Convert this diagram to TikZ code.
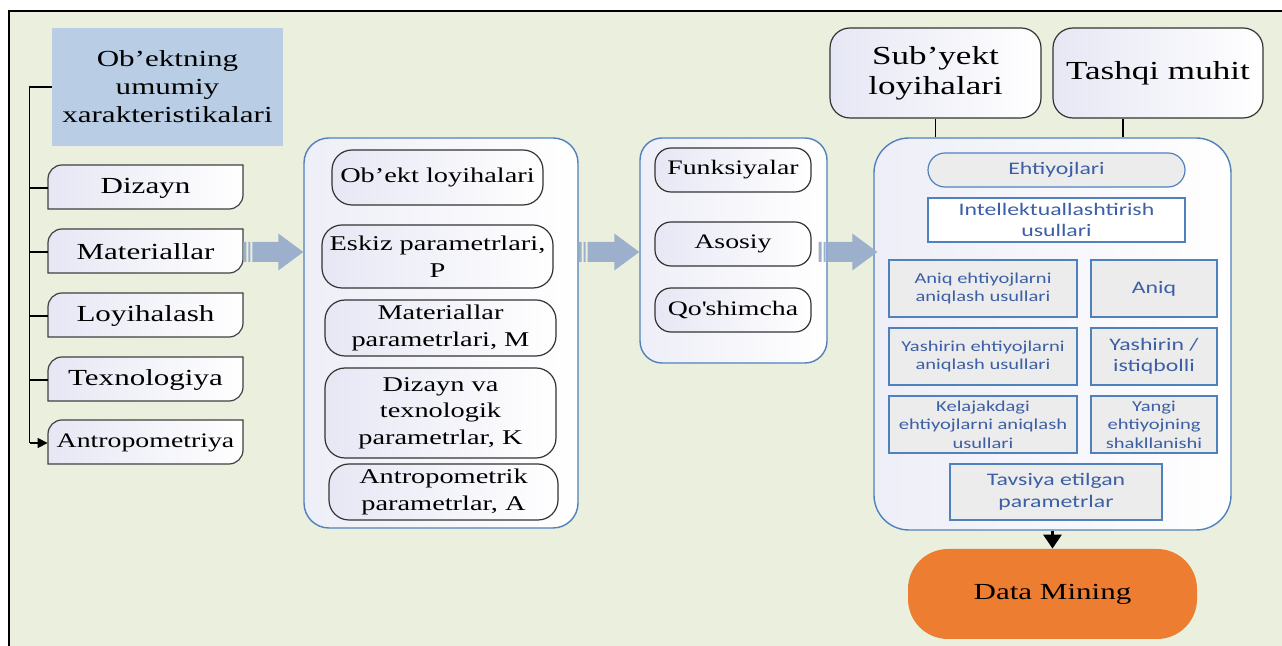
\documentclass[tikz,border=0pt]{standalone}
\usepackage{fontspec}
\setmainfont{Liberation Serif}[FakeStretch=1.35]
\newfontfamily\calfont{Carlito}[FakeStretch=1.35]
\usetikzlibrary{calc,arrows.meta}

\definecolor{bggreen}{RGB}{234,239,222}
\definecolor{hdrblue}{RGB}{185,205,229}
\definecolor{lav}{RGB}{230,231,244}
\definecolor{boxblue}{RGB}{79,129,189}
\definecolor{txtblue}{RGB}{60,95,165}
\definecolor{needgray}{RGB}{236,236,236}
\definecolor{arrowblue}{RGB}{157,176,203}
\definecolor{dmorange}{RGB}{237,125,49}

\tikzset{
  leftbox/.style={minimum width=97.5pt,minimum height=22pt,inner sep=0pt},
  innerbox/.style={draw=black!80,line width=0.6pt,left color=lav,right color=white,align=center,inner sep=1pt},
  bigbox/.style={draw=boxblue,line width=0.7pt,left color=lav!70,right color=white},
  needbox/.style={draw=boxblue,line width=0.6pt,fill=needgray,align=center,text=txtblue,inner sep=1pt},
  smalltxt/.style={font=\calfont\fontsize{7.6}{9.2}\selectfont},
  bigtxt/.style={font=\calfont\fontsize{8.8}{10.8}\selectfont}
}

% wide block arrow with two stripes at its tail
\newcommand{\flowarrow}[2]{%
  \path let \p1=#1, \p2=#2 in [fill=arrowblue]
    (\x1,\y1-5pt) rectangle (\x1+1.5pt,\y1+5pt)
    (\x1+2.5pt,\y1-5pt) rectangle (\x1+3.5pt,\y1+5pt)
    (\x1+4.5pt,\y1-5pt) -- (\x2-12.5pt,\y1-5pt) -- (\x2-12.5pt,\y1-9.25pt) -- (\x2,\y1)
    -- (\x2-12.5pt,\y1+9.25pt) -- (\x2-12.5pt,\y1+5pt) -- (\x1+4.5pt,\y1+5pt) -- cycle;}

\begin{document}
\begin{tikzpicture}[x=0.5pt,y=-0.5pt,font=\fontsize{11.5}{13.5}\selectfont]
\useasboundingbox (0,0) rectangle (1282,646);
\fill[bggreen] (9,11) rectangle (1282,646);
\draw[line width=0.8pt] (9,646) -- (9,11) -- (1282,11);

% left column
\node[fill=hdrblue,minimum width=115.5pt,minimum height=59pt,align=center,font=\fontsize{11.5}{14}\selectfont] (hdr) at (167.5,87) {Ob’ektning\\umumiy\\xarakteristikalari};
\foreach \y/\nm/\fs/\txt in {187/diz/11.5/Dizayn,251/mat/11.5/Materiallar,315/loy/11.5/Loyihalash,379/tex/11.5/Texnologiya,442/ant/10.3/Antropometriya}{
  \path[left color=lav,right color=white,draw=black!75,line width=0.6pt]
    (48,\y+22) -- (48,\y-8) arc[start angle=180,end angle=90,radius=7pt] -- (243,\y-22)
    -- (243,\y+8) arc[start angle=0,end angle=-90,radius=7pt] -- cycle;
  \node[leftbox,font=\fontsize{\fs}{13}\selectfont] (\nm) at (145.5,\y+1) {\txt};
}
\draw[line width=0.7pt] (hdr.west) -- ++(-11pt,0) coordinate (tr) -- (tr |- ant.west);
\foreach \nm in {diz,mat,loy,tex}
  \draw[line width=0.7pt] (tr |- \nm.west) -- (\nm.west);
\draw[line width=0.7pt,-{Triangle[width=5pt,length=5pt]}] (tr |- ant.west) -- (ant.west);

% object parameters
\node[bigbox,rounded corners=12.5pt,minimum width=137pt,minimum height=195pt] (c1) at (441,333) {};
\begin{scope}[every node/.style={innerbox,rounded corners=10pt,font=\fontsize{10.5}{13.3}\selectfont}]
\node[minimum width=105.5pt,minimum height=27.5pt] (ol) at (437.5,177.5) {Ob’ekt loyihalari};
\node[minimum width=115.5pt,minimum height=31.5pt] (ep) at (437.5,256.5) {Eskiz parametrlari,\\P};
\node[minimum width=115.5pt,minimum height=28pt] (mp) at (440.5,328) {Materiallar\\parametrlari, M};
\node[minimum width=115.5pt,minimum height=45pt] (dt) at (440.5,413) {Dizayn va\\texnologik\\parametrlar, K};
\node[minimum width=114.5pt,minimum height=28pt] (ap) at (443.5,492) {Antropometrik\\parametrlar, A};
\end{scope}

% functions
\node[bigbox,rounded corners=11pt,minimum width=93.5pt,minimum height=112.5pt] (c2) at (733.5,250.5) {};
\begin{scope}[every node/.style={innerbox,rounded corners=8pt,minimum width=78pt,minimum height=22pt,font=\fontsize{10.3}{12}\selectfont}]
\node (fn) at (733,170) {Funksiyalar};
\node (as) at (733,244) {Asosiy};
\node (qo) at (733,310) {Qo\textquotesingle shimcha};
\end{scope}

% needs
\node[bigbox,rounded corners=17.5pt,minimum width=178.5pt,minimum height=196pt] (c3) at (1052.5,334) {};
\node[needbox,bigtxt,rounded corners=8.5pt,minimum width=128.5pt,minimum height=17pt] (eh) at (1056.5,170) {Ehtiyojlari};
\node[needbox,bigtxt,fill=white,minimum width=128.5pt,minimum height=22pt] (iu) at (1056.5,220) {Intellektuallashtirish\\usullari};
\begin{scope}[every node/.style={needbox,minimum height=28.5pt}]
\node[smalltxt,minimum width=94pt] (an1) at (983,288.5) {Aniq ehtiyojlarni\\aniqlash usullari};
\node[bigtxt,minimum width=63pt] (an2) at (1154,288.5) {Aniq};
\node[smalltxt,minimum width=94pt] (ya1) at (983,356.5) {Yashirin ehtiyojlarni\\aniqlash usullari};
\node[bigtxt,minimum width=63pt] (ya2) at (1154,356.5) {Yashirin /\\istiqbolli};
\node[smalltxt,minimum width=94pt] (ke1) at (983,424.5) {Kelajakdagi\\ehtiyojlarni aniqlash\\usullari};
\node[smalltxt,minimum width=63pt] (ke2) at (1154,424.5) {Yangi\\ehtiyojning\\shakllanishi};
\node[bigtxt,minimum width=106pt,minimum height=28pt] (tp) at (1056,492) {Tavsiya etilgan\\parametrlar};
\end{scope}

% subject and environment
\node[innerbox,rounded corners=10pt,minimum width=105.5pt,minimum height=45pt,font=\fontsize{13}{15}\selectfont] (sy) at (935.5,73) {Sub’yekt\\loyihalari};
\node[innerbox,rounded corners=10pt,minimum width=105pt,minimum height=45pt,font=\fontsize{13}{15}\selectfont] (tm) at (1158,73) {Tashqi muhit};
\draw[line width=0.8pt] (sy.south) -- (sy.south |- c3.north);
\draw[line width=0.8pt] ([xshift=-17.5pt]tm.south) -- ([xshift=-17.5pt]tm.south |- c3.north);

% block arrows
\flowarrow{(mat.east)}{(c1.west |- mat.east)}
\flowarrow{(c1.east |- mat.east)}{(c2.west |- mat.east)}
\flowarrow{([xshift=-4.5pt]c2.east |- mat.east)}{([xshift=2pt]c3.west |- mat.east)}

% result
\node[fill=dmorange,rounded corners=20pt,minimum width=144.5pt,minimum height=45pt] (dm) at (1052.5,594) {Data Mining};
\draw[line width=1.5pt,-{Triangle[width=9pt,length=7pt]}] (c3.south) -- (dm.north);
\end{tikzpicture}
\end{document}
